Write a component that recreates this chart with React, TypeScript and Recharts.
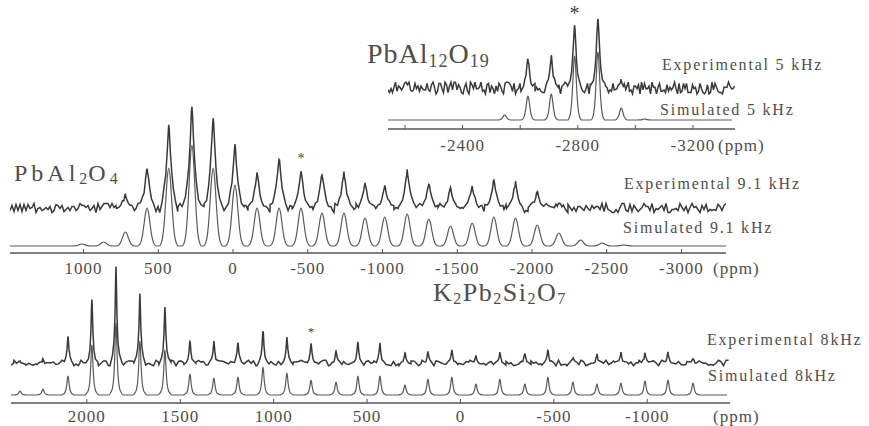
import React from 'react';
import { LineChart, Line, XAxis, YAxis, ReferenceDot } from 'recharts';

// ---------------- DATA ----------------
// Panel A : PbAl12O19, spinning 5 kHz
const ticksA = [-2200, -2400, -2600, -2800, -3000, -3200];
const labelledA = [-2400, -2800, -3200];
const peaksA = [-2546, -2627, -2708, -2789, -2870, -2951, -3032];
const expA = [0, 28, 31, 63, 70, 8, 0];
const simA = [5, 24, 26, 64, 68, 12, 1];
const starA = -2789;

// Panel B : PbAl2O4, spinning 9.1 kHz
const ticksB = [1000, 500, 0, -500, -1000, -1500, -2000, -2500, -3000];
const labelledB = ticksB;
const peaksB = [1010, 865, 720, 575, 430, 275, 133, -13, -161, -308, -455, -595, -742, -883, -1015, -1165, -1310, -1455, -1600, -1745, -1890, -2035, -2180, -2325, -2470, -2615];
const expB = [0, 0, 13, 40, 83, 103, 90, 63, 35, 50, 37, 33, 35, 25, 22, 37, 23, 20, 21, 28, 25, 16, 5, 0, 0, 0];
const simB = [2, 4, 14, 38, 78, 101, 78, 61, 38, 38, 38, 33, 33, 28, 29, 32, 27, 20, 23, 29, 28, 21, 13, 6, 3, 1];
const starB = -455;

// Panel C : K2Pb2Si2O7, spinning 8 kHz
const ticksC = [2000, 1500, 1000, 500, 0, -500, -1000];
const labelledC = ticksC;
const peaksC = [2358, 2235, 2101, 1973, 1844, 1716, 1582, 1448, 1320, 1191, 1057, 929, 800, 666, 549, 431, 297, 174, 46, -83, -211, -345, -468, -602, -731, -859, -988, -1111, -1245];
const expC = [2, 3, 26, 64, 96, 69, 56, 22, 21, 21, 33, 25, 19, 11, 21, 19, 10, 11, 12, 7, 10, 10, 13, 5, 8, 10, 10, 10, 5];
const simC = [4, 6, 19, 50, 72, 54, 45, 21, 17, 18, 28, 22, 15, 13, 19, 19, 10, 16, 18, 11, 16, 11, 18, 13, 11, 12, 14, 15, 12];
const starC = 800;

// hand-typed noise digits for the experimental traces
const noiseA = '3141592653589793238462643383279502884197169399375105820974944592307816406286208998628034825342117067982148086513282306647093844609550582231725359408128481117450284102701938521105559644622948954930381964428810975665933446128475648233786783165271201909145648566923460348610454326648213393607260249141273';
const noiseB = '2718281828459045235360287471352662497757247093699959574966967627724076630353547594571382178525166427427466391932003059921817413596629043572900334295260595630738132328627943490763233829880753195251019011573834187930702154089149934884167509244761460668082264800168477411853742345442437107539077744992069';
const noiseC = '1414213562373095048801688724209698078569671875376948073176679737990732478462107038850387534327641572735013846230912297024924836055850737212644121497099935831413222665927505592755799950501152782060571470109559971605970274534596862014728517418640889198609552329230484308714321450839762603627995251407989687253396546331808829640620615258352395054745750287759961729835575220337531857011382930';

// ---------------- STYLE / LAYOUT ----------------
const W = 869;
const H = 426;
const TEXT = '#4e4e4e';
const EXP = '#3a3a3a';
const SIM = '#5a5a5a';
const AXIS = '#555555';
const FONT = '"Liberation Serif", "Times New Roman", serif';

type Pt = { x: number; y: number };
type Cfg = {
  left: number; width: number; plotTop: number; axisY: number;
  hi: number; lo: number; expBase: number; simBase: number; labelDy: number;
};

const cfgA: Cfg = { left: 388, width: 347, plotTop: 0, axisY: 129, hi: -2141, lo: -3346, expBase: 41, simBase: 9, labelDy: 22 };
const cfgB: Cfg = { left: 10, width: 716, plotTop: 60, axisY: 253, hi: 1492, lo: -3298, expBase: 45, simBase: 7, labelDy: 21 };
const cfgC: Cfg = { left: 11, width: 719, plotTop: 250, axisY: 403, hi: 2406, lo: -1443, expBase: 40, simBase: 8, labelDy: 19 };

// peak outline templates: [offset in px, fraction of peak height]
const simShapeA = [[-7, 0], [-5, 0.05], [-3.5, 0.18], [-2.5, 0.38], [-1.5, 0.68], [-0.6, 0.94], [0, 1]];
const expShapeA = [[-7, 0], [-4.5, 0.1], [-3, 0.25], [-2, 0.45], [-1, 0.75], [-0.3, 0.96], [0, 1]];
const simShapeB = [[-9.5, 0], [-7.5, 0.04], [-6, 0.12], [-4.5, 0.3], [-3, 0.58], [-1.5, 0.87], [0, 1]];
const expShapeB = [[-9, 0], [-6.5, 0.1], [-4.5, 0.25], [-3, 0.42], [-1.5, 0.7], [-0.5, 0.93], [0, 1]];
const simShapeC = [[-7, 0], [-5, 0.04], [-3.5, 0.1], [-2.2, 0.25], [-1.2, 0.55], [-0.4, 0.92], [0, 1]];
const expShapeC = [[-6, 0], [-3.5, 0.08], [-2, 0.22], [-1, 0.5], [-0.3, 0.9], [0, 1]];

type Noise = { digits: string; amp: number; step: number };

function buildTrace(cfg: Cfg, peaks: number[], heights: number[], base: number, shape: number[][], noise?: Noise): Pt[] {
  const ppx = (cfg.hi - cfg.lo) / cfg.width;
  const full = [...shape, ...shape.slice(0, -1).reverse().map(([d, f]) => [-d, f])];
  const maxDx = Math.abs(shape[0][0]);
  let ni = 0;
  const nz = (k: number) => (noise ? (Number(noise.digits[ni++ % noise.digits.length]) - 4.5) * noise.amp * k : 0);
  const active = peaks.map((p, i) => ({ p, h: heights[i] })).filter((o) => o.h > 0);
  const step = noise ? noise.step : 4;
  const pts: Pt[] = [];
  for (let px = 0; px <= cfg.width + 0.01; px += step) {
    const x = cfg.hi - px * ppx;
    if (active.some((o) => Math.abs(x - o.p) < maxDx * ppx)) continue;
    pts.push({ x, y: base + nz(1) });
  }
  for (const o of active) {
    for (const [d, f] of full) {
      pts.push({ x: o.p - d * ppx, y: base + o.h * f + nz(f > 0 ? 0.4 : 1) });
    }
  }
  pts.sort((a, b) => b.x - a.x);
  return pts;
}

const makeTick = (labelled: number[], dy: number) => (props: any) => {
  const { x, y, payload } = props;
  const v = payload.value;
  const show = labelled.includes(v);
  return (
    <g>
      <line x1={x} x2={x} y1={y} y2={y - 4} stroke={AXIS} strokeWidth={1} />
      {show ? (
        <text x={x} y={y + dy} textAnchor="middle" fontFamily={FONT} fontSize={17} letterSpacing={1} fill={TEXT}>
          {String(v)}
        </text>
      ) : null}
    </g>
  );
};

type PanelProps = {
  cfg: Cfg; ticks: number[]; labelled: number[]; peaks: number[]; exp: number[]; sim: number[];
  expShape: number[][]; simShape: number[][]; noise: Noise; star: number; starSize: number;
};

function Panel({ cfg, ticks, labelled, peaks, exp, sim, expShape, simShape, noise, star, starSize }: PanelProps) {
  const expData = buildTrace(cfg, peaks, exp, cfg.expBase, expShape, noise);
  const simData = buildTrace(cfg, peaks, sim, cfg.simBase, simShape);
  const plotH = cfg.axisY - cfg.plotTop;
  const starIdx = peaks.indexOf(star);
  const starY = cfg.expBase + exp[starIdx] + 14;
  return (
    <div style={{ position: 'absolute', left: 0, top: cfg.plotTop }}>
      <LineChart
        width={W}
        height={plotH + 30}
        margin={{ top: 0, left: cfg.left, right: W - cfg.left - cfg.width, bottom: 0 }}
      >
        <XAxis
          type="number"
          dataKey="x"
          domain={[cfg.lo, cfg.hi]}
          reversed
          allowDataOverflow
          ticks={ticks}
          interval={0}
          tick={makeTick(labelled, cfg.labelDy)}
          tickLine={false}
          tickSize={0}
          tickMargin={0}
          height={30}
          axisLine={{ stroke: AXIS, strokeWidth: 1.3 }}
        />
        <YAxis hide type="number" domain={[0, plotH]} allowDataOverflow />
        <Line data={simData} dataKey="y" type="monotone" stroke={SIM} strokeWidth={1.2} dot={false} isAnimationActive={false} />
        <Line data={expData} dataKey="y" type="linear" stroke={EXP} strokeWidth={1.5} dot={false} isAnimationActive={false} />
        <ReferenceDot
          x={star}
          y={starY}
          r={0}
          ifOverflow="visible"
          shape={(p: any) => (
            <text x={p.cx} y={p.cy + starSize * 0.45} textAnchor="middle" fontFamily={FONT} fontSize={starSize} fill="#444">
              *
            </text>
          )}
        />
      </LineChart>
    </div>
  );
}

const lab = { fontFamily: FONT, fill: TEXT } as const;

export default function App() {
  return (
    <div style={{ position: 'absolute', left: 0, top: 0, width: W, height: H, overflow: 'hidden', background: '#fff' }}>
      <Panel cfg={cfgB} ticks={ticksB} labelled={labelledB} peaks={peaksB} exp={expB} sim={simB}
        expShape={expShapeB} simShape={simShapeB} noise={{ digits: noiseB, amp: 1.0, step: 2 }} star={starB} starSize={14} />
      <Panel cfg={cfgA} ticks={ticksA} labelled={labelledA} peaks={peaksA} exp={expA} sim={simA}
        expShape={expShapeA} simShape={simShapeA} noise={{ digits: noiseA, amp: 1.3, step: 1.5 }} star={starA} starSize={20} />
      <Panel cfg={cfgC} ticks={ticksC} labelled={labelledC} peaks={peaksC} exp={expC} sim={simC}
        expShape={expShapeC} simShape={simShapeC} noise={{ digits: noiseC, amp: 0.6, step: 2.5 }} star={starC} starSize={13} />
      <svg width={W} height={H} style={{ position: 'absolute', left: 0, top: 0, pointerEvents: 'none' }}>
        <text x={367} y={63} fontSize={28} letterSpacing={1} {...lab}>
          PbAl<tspan fontSize={18} dy={4}>12</tspan><tspan dy={-4}>O</tspan><tspan fontSize={18} dy={4}>19</tspan>
        </text>
        <text x={662} y={70} fontSize={16} letterSpacing={1.8} {...lab}>Experimental 5 kHz</text>
        <text x={660} y={115} fontSize={16} letterSpacing={1.8} {...lab}>Simulated 5 kHz</text>
        <text x={718} y={151} fontSize={17} letterSpacing={1} {...lab}>(ppm)</text>

        <text x={14} y={181} fontSize={24} letterSpacing={4} {...lab}>
          PbAl<tspan fontSize={16} dy={3} letterSpacing={1}>2</tspan><tspan dy={-3}>O</tspan><tspan fontSize={16} dy={3}>4</tspan>
        </text>
        <text x={624} y={189} fontSize={16} letterSpacing={1.8} {...lab}>Experimental 9.1 kHz</text>
        <text x={623} y={233} fontSize={16} letterSpacing={1.8} {...lab}>Simulated 9.1 kHz</text>
        <text x={713} y={274} fontSize={17} letterSpacing={1} {...lab}>(ppm)</text>

        <text x={433} y={301} fontSize={26} letterSpacing={1.5} {...lab}>
          K<tspan fontSize={16} dy={3}>2</tspan><tspan dy={-3}>Pb</tspan><tspan fontSize={16} dy={3}>2</tspan><tspan dy={-3}>Si</tspan><tspan fontSize={16} dy={3}>2</tspan><tspan dy={-3}>O</tspan><tspan fontSize={16} dy={3}>7</tspan>
        </text>
        <text x={707} y={345} fontSize={16} letterSpacing={1.8} {...lab}>Experimental 8kHz</text>
        <text x={708} y={381} fontSize={16} letterSpacing={1.8} {...lab}>Simulated 8kHz</text>
        <text x={713} y={422} fontSize={17} letterSpacing={1} {...lab}>(ppm)</text>
      </svg>
    </div>
  );
}
